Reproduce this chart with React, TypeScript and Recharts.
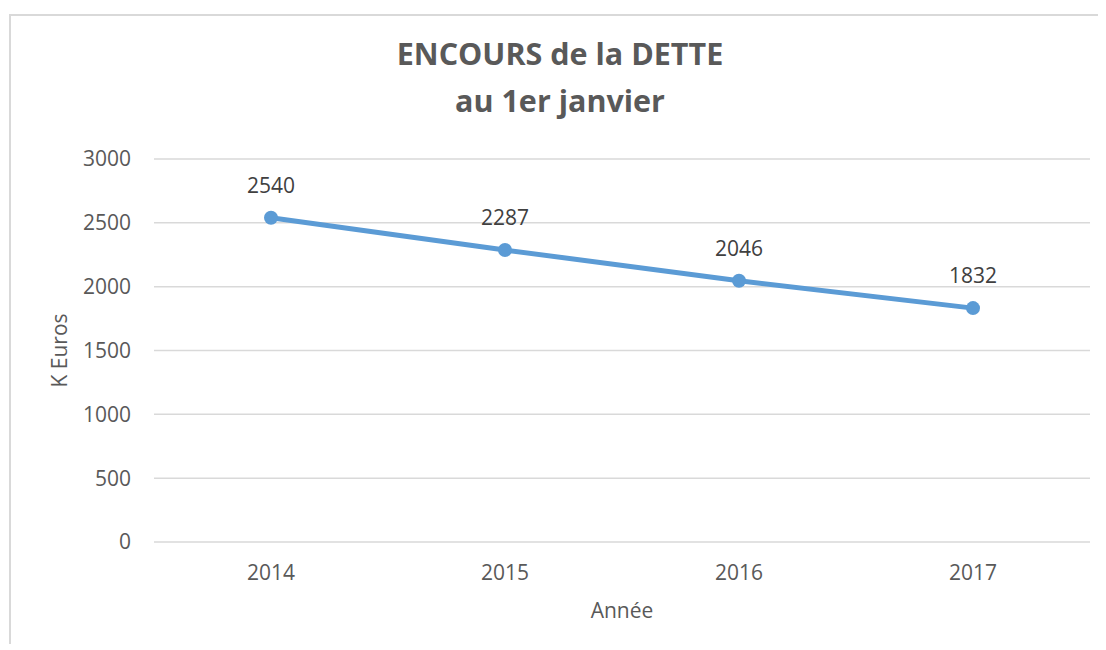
import React from "react";
import { LineChart, Line, XAxis, YAxis, CartesianGrid, LabelList, Label } from "recharts";

const years = ["2014", "2015", "2016", "2017"];
const encours = [2540, 2287, 2046, 1832];
const yTicks = [0, 500, 1000, 1500, 2000, 2500, 3000];

const data = years.map((y, i) => ({ year: y, value: encours[i] }));

const FONT = "'Open Sans', 'DejaVu Sans', sans-serif";

export default function App() {
  return (
    <div
      style={{
        position: "relative",
        marginLeft: 1,
        marginTop: 6,
        borderLeft: "2px solid #d9d9d9",
        borderTop: "2px solid #d9d9d9",
        width: 1095,
        height: 628,
        fontFamily: FONT,
      }}
    >
      <div
        style={{
          position: "absolute",
          left: 0,
          top: 14,
          width: 1098,
          textAlign: "center",
          fontSize: 30.5,
          lineHeight: "47px",
          fontWeight: 700,
          color: "#595959",
          fontFamily: FONT,
        }}
      >
        ENCOURS de la DETTE
        <br />
        au 1er janvier
      </div>
      <LineChart
        width={1095}
        height={628}
        data={data}
        margin={{ top: 143, right: 16, left: 0, bottom: 0 }}
        style={{ position: "absolute", left: 0, top: 0 }}
      >
        <CartesianGrid vertical={false} stroke="#d9d9d9" strokeWidth={1.5} />
        <XAxis
          dataKey="year"
          scale="band"
          height={102}
          axisLine={false}
          tickLine={false}
          tickSize={0}
          tickMargin={23}
          tick={{ fill: "#595959", fontSize: 21, fontFamily: FONT }}
        >
          <Label
            value="Année"
            position="insideBottom"
            offset={26}
            style={{ fill: "#595959", fontSize: 21, fontFamily: FONT }}
          />
        </XAxis>
        <YAxis
          width={143}
          domain={[0, 3000]}
          ticks={yTicks}
          axisLine={false}
          tickLine={false}
          tickSize={0}
          tickMargin={23}
          tick={{ fill: "#595959", fontSize: 21, fontFamily: FONT }}
        >
          <Label
            value="K Euros"
            angle={-90}
            position="insideLeft"
            offset={49}
            style={{ fill: "#595959", fontSize: 21, fontFamily: FONT, textAnchor: "middle" }}
          />
        </YAxis>
        <Line
          type="linear"
          dataKey="value"
          stroke="#5b9bd5"
          strokeWidth={5}
          strokeLinecap="round"
          dot={{ r: 7, fill: "#5b9bd5", stroke: "#5b9bd5", strokeWidth: 0 }}
          activeDot={false}
          isAnimationActive={false}
        >
          <LabelList
            dataKey="value"
            position="top"
            offset={25}
            style={{ fill: "#404040", fontSize: 21, fontFamily: FONT }}
          />
        </Line>
      </LineChart>
    </div>
  );
}
